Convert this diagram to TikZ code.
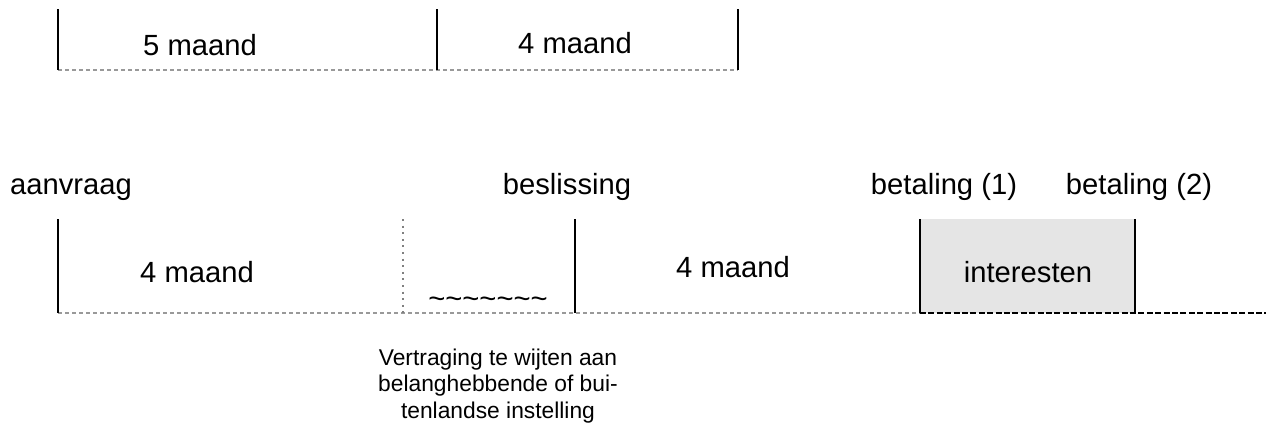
\documentclass[tikz,border=0pt]{standalone}
\usepackage{fontspec}
\setmainfont{Liberation Sans}
\usetikzlibrary{calc}

\begin{document}
\begin{tikzpicture}[x=0.5pt,y=-0.5pt,
    tick/.style={line width=1pt},
    base/.style={gray!80,line width=0.75pt,dash pattern=on 2pt off 1.5pt},
    lbl/.style={font=\fontsize{14.6}{17}\selectfont,inner sep=0pt,anchor=base},
    note/.style={font=\fontsize{11.4}{13.4}\selectfont,align=center,inner sep=0pt}]
\useasboundingbox (0,0) rectangle (1278,428);

    % Top timeline:
    \coordinate (p0t) at (58,9);   \coordinate (p0b) at (58,70);
    \coordinate (p1t) at (437,9);  \coordinate (p1b) at (437,70);
    \coordinate (p2t) at (738,9);  \coordinate (p2b) at (738,70);
    \draw [base] (p0b) -- (p2b);
    \draw [tick] (p0t) -- (p0b);
    \draw [tick] (p1t) -- (p1b);
    \draw [tick] (p2t) -- (p2b);
    \node [lbl] (vijf) at (200,55) {5 maand};
    \node [lbl] (vier) at (575,53) {4 maand};

    % Bottom timeline:
    \coordinate (q0t) at (58,219);   \coordinate (q0b) at (58,313);
    \coordinate (q1t) at (403,219);  \coordinate (q1b) at (403,313);
    \coordinate (q2t) at (575,219);  \coordinate (q2b) at (575,313);
    \coordinate (q3t) at (920,219);  \coordinate (q3b) at (920,313);
    \coordinate (q4t) at (1135,219); \coordinate (q4b) at (1135,313);
    \coordinate (qe) at (1266,313);
    \fill [gray!20] (q3t) rectangle (q4b);
    \draw [base] (q0b) -- (q3b);
    \draw [black,line width=1pt,dash pattern=on 3pt off 1.2pt] (q3b) -- (qe);
    \draw [gray,line width=0.75pt,dash pattern=on 1pt off 2.3pt] (q1t) -- (q1b);
    \draw [tick] (q0t) -- (q0b);
    \draw [tick] (q2t) -- (q2b);
    \draw [tick] (q3t) -- (q3b);
    \draw [tick] (q4t) -- (q4b);

    % Labels:
    \node [lbl] (aanvraag) at (71,194) {aanvraag};
    \node [lbl] (beslissing) at (567,194) {beslissing};
    \node [lbl] (betaling1) at (944,194) {betaling (1)};
    \node [lbl] (betaling2) at (1139,194) {betaling (2)};
    \node [lbl] (periode1) at (197,282) {4 maand};
    \node [lbl] (periode2) at (733,277) {4 maand};
    \node [lbl] (interesten) at (1028,282) {interesten};
    \node [lbl] (golf) at (488,308) {\textasciitilde\textasciitilde\textasciitilde\textasciitilde\textasciitilde\textasciitilde\textasciitilde};
    \node [note] (vertraging) at (498,386) {Vertraging te wijten aan\\belanghebbende of bui-\\tenlandse instelling};
\end{tikzpicture}
\end{document}
